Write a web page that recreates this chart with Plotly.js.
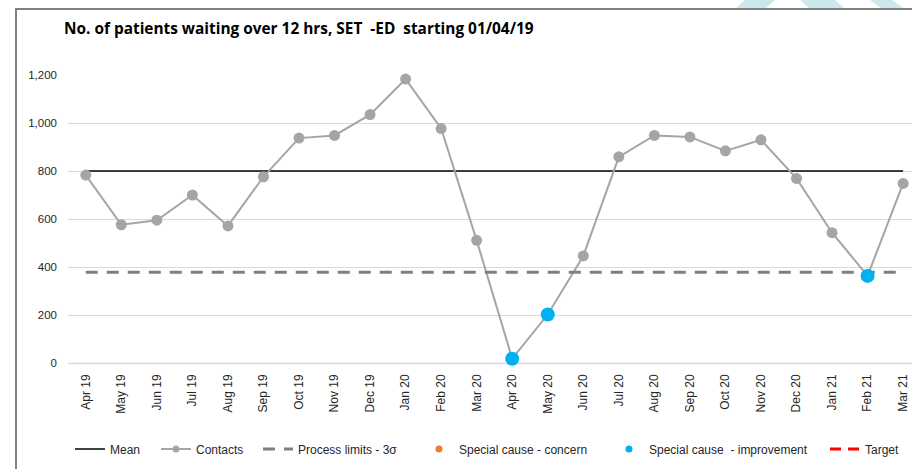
<!DOCTYPE html>
<html>
<head>
<meta charset="utf-8">
<script src="https://cdn.plot.ly/plotly-3.0.1.min.js"></script>
<style>html,body{margin:0;padding:0;background:#fff;}#chart{width:912px;height:469px;}</style>
</head>
<body>
<div id="chart"></div>
<script>
// ---- data ----
const months = ['Apr 19','May 19','Jun 19','Jul 19','Aug 19','Sep 19','Oct 19','Nov 19','Dec 19','Jan 20','Feb 20','Mar 20',
                'Apr 20','May 20','Jun 20','Jul 20','Aug 20','Sep 20','Oct 20','Nov 20','Dec 20','Jan 21','Feb 21','Mar 21'];
const contacts = [783, 576, 595, 700, 571, 776, 937, 948, 1035, 1183, 977, 511,
                  18, 202, 446, 859, 948, 942, 884, 930, 769, 543, 363, 748];
const meanValue = 800;
const lowerLimit = 378;
const improvementMonths = ['Apr 20','May 20','Feb 21'];
const improvementValues = [18, 202, 363];
const concernMonths = [];
const concernValues = [];
const yTicks = [0, 200, 400, 600, 800, 1000, 1200];
const yTickText = ['0','200','400','600','800','1,000','1,200'];

// ---- geometry helpers ----
const W = 912, H = 469;
const mL = 68, mT = 75, mB = 106;
const plotW = W - mL, plotH = H - mT - mB;
const px = x => (x - mL) / plotW;
const py = y => (H - mB - y) / plotH;
const cx = x => x / W;
const cy = y => 1 - y / H;

const first = months[0], last = months[months.length - 1];
const font = 'Liberation Sans, Arial, sans-serif';
const GRAY = '#A5A5A5', BLUE = '#00B0F0', ORANGE = '#ED7D31';

const traces = [
  // plotted series
  {x:[first,last], y:[meanValue,meanValue], mode:'lines', name:'Mean',
   line:{color:'#000000', width:1.5}, legend:'legend', hoverinfo:'skip'},
  {x:months, y:contacts, mode:'lines+markers', name:'Contacts', showlegend:false,
   line:{color:GRAY, width:2}, marker:{color:GRAY, size:11}, cliponaxis:false},
  {x:[first,last], y:[lowerLimit,lowerLimit], mode:'lines', name:'Process limits - 3σ',
   line:{color:'#7F7F7F', width:3, dash:'12px,9px'}, legend:'legend3', hoverinfo:'skip'},
  {x:concernMonths, y:concernValues, mode:'markers', name:'Special cause - concern', showlegend:false,
   marker:{color:ORANGE, size:12}, cliponaxis:false},
  {x:improvementMonths, y:improvementValues, mode:'markers', name:'Special cause  - improvement', showlegend:false,
   marker:{color:BLUE, size:14}, cliponaxis:false},
  // legend entries (small symbols, like the reference key)
  {x:[null], y:[null], mode:'lines+markers', name:'Contacts',
   line:{color:GRAY, width:2}, marker:{color:GRAY, size:7}, legend:'legend2'},
  {x:[null], y:[null], mode:'markers', name:'Special cause - concern',
   marker:{color:ORANGE, size:7}, legend:'legend4'},
  {x:[null], y:[null], mode:'markers', name:'Special cause  - improvement',
   marker:{color:BLUE, size:7}, legend:'legend5'},
  {x:[null], y:[null], mode:'lines', name:'Target',
   line:{color:'#FF0000', width:3, dash:'11px,7px'}, legend:'legend6'}
];

function lg(xpix){
  return {xref:'container', yref:'container', x:cx(xpix), y:cy(449), xanchor:'left', yanchor:'middle',
          orientation:'h', bgcolor:'rgba(0,0,0,0)', borderwidth:0,
          font:{family:font, size:12, color:'#262626'}, itemclick:false, itemdoubleclick:false};
}

const teal = 'rgba(190,228,232,0.8)';
const layout = {
  width: W, height: H,
  margin: {l:mL, r:0, t:mT, b:mB, pad:0},
  paper_bgcolor:'#ffffff', plot_bgcolor:'#ffffff',
  showlegend: true,
  title: {text:'No. of patients waiting over 12 hrs, SET  -ED  starting 01/04/19',
          xref:'container', yref:'container', x:cx(64), y:cy(29), xanchor:'left', yanchor:'middle',
          font:{family:'Open Sans, Lato, sans-serif', size:15.4, color:'#000000', weight:'bold'}},
  xaxis: {type:'category', categoryorder:'array', categoryarray:months, range:[-0.5, 23.25],
          tickangle:-90, ticks:'', showgrid:false, zeroline:false, showline:false,
          tickfont:{family:font, size:12, color:'#262626'}, ticklabelstandoff:8, fixedrange:true},
  yaxis: {range:[0,1200], tickvals:yTicks, ticktext:yTickText, showgrid:true, gridcolor:'#D9D9D9', gridwidth:1,
          zeroline:false, showline:false, ticks:'', tickfont:{family:font, size:11.5, color:'#262626'},
          ticklabelstandoff:10, fixedrange:true},
  legend: lg(70),
  legend2: lg(156),
  legend3: lg(258),
  legend4: lg(419),
  legend5: lg(609),
  legend6: lg(825),
  shapes: [
    {type:'line', xref:'paper', yref:'paper', x0:0, x1:1, y0:py(363.5), y1:py(363.5), line:{color:'#D9D9D9', width:1.5}, layer:'below'},
    {type:'path', xref:'paper', yref:'paper', path:`M ${px(745)} ${py(0)} L ${px(775)} ${py(0)} L ${px(765)} ${py(9)} L ${px(735)} ${py(9)} Z`, fillcolor:teal, line:{width:0}},
    {type:'path', xref:'paper', yref:'paper', path:`M ${px(800)} ${py(0)} L ${px(835)} ${py(0)} L ${px(845)} ${py(9)} L ${px(810)} ${py(9)} Z`, fillcolor:teal, line:{width:0}},
    {type:'path', xref:'paper', yref:'paper', path:`M ${px(870)} ${py(0)} L ${px(892)} ${py(0)} L ${px(905)} ${py(9)} L ${px(882)} ${py(9)} Z`, fillcolor:teal, line:{width:0}},
    {type:'line', xref:'paper', yref:'paper', x0:px(15), x1:px(W), y0:py(9), y1:py(9), line:{color:'#7F7F7F', width:2}},
    {type:'line', xref:'paper', yref:'paper', x0:px(16), x1:px(16), y0:py(8), y1:py(H), line:{color:'#7F7F7F', width:2}}
  ]
};

Plotly.newPlot('chart', traces, layout, {displayModeBar:false, staticPlot:true});
</script>
</body>
</html>
